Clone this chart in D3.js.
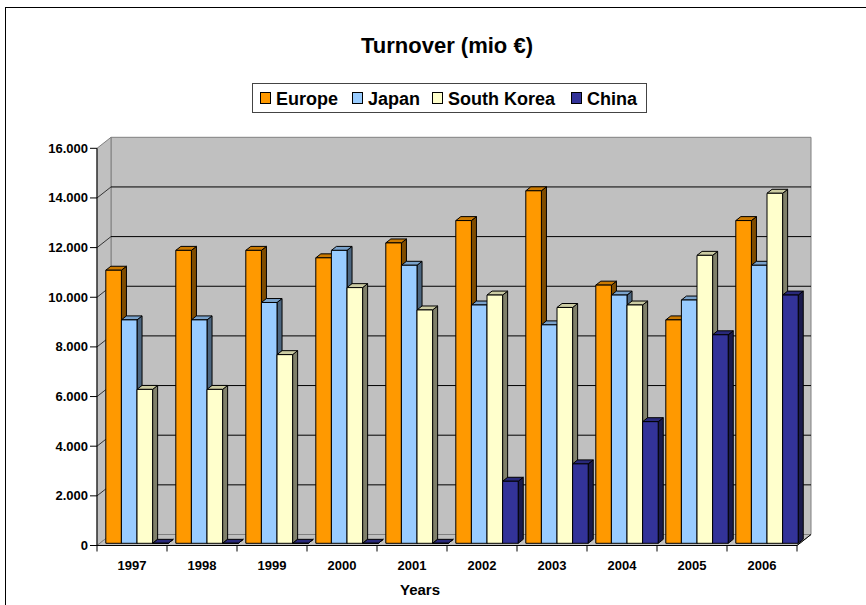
<!DOCTYPE html>
<html lang="en">
<head>
<meta charset="UTF-8">
<title>Turnover</title>
<style>
  body { margin: 0; background: #fff; }
  text { font-family: "Liberation Sans", Arial, sans-serif; font-weight: bold; fill: #000; }
</style>
</head>
<body>
<svg id="chart" width="866" height="605"></svg>
<script src="https://d3js.org/d3.v7.min.js"></script>
<script>

var years = ["1997", "1998", "1999", "2000", "2001", "2002", "2003", "2004", "2005", "2006"];
var seriesNames = ["Europe", "Japan", "South Korea", "China"];

var europe     = [11000, 11800, 11800, 11500, 12100, 13000, 14200, 10400,  9000, 13000];
var japan      = [ 9000,  9000,  9700, 11800, 11200,  9600,  8800, 10000,  9800, 11200];
var southKorea = [ 6200,  6200,  7600, 10300,  9400, 10000,  9500,  9600, 11600, 14100];
var china      = [    0,     0,     0,     0,     0,  2500,  3200,  4900,  8400, 10000];

var yTicks = [0, 2000, 4000, 6000, 8000, 10000, 12000, 14000, 16000];

var frontColors = ["#FF9900", "#99CCFF", "#FFFFCC", "#333399"];
var topColors   = ["#CC7A00", "#7AA3CC", "#CCCCA3", "#29297A"];
var sideColors  = ["#7F4C00", "#4C6680", "#80806A", "#1A1A4C"];

var allSeries = [europe, japan, southKorea, china];

var svg = d3.select("#chart");

// outer chart frame
svg.append("rect")
    .attr("x", 5.5).attr("y", 7.5)
    .attr("width", 880).attr("height", 620)
    .attr("fill", "#fff").attr("stroke", "#000");

// 3d set up: front plane + depth offset
var left = 97, right = 797,
    DX = 14, DY = 11,
    z0 = 0.2, z1 = 0.56;

var y = d3.scaleLinear().domain([0, 16000]).range([545.5, 148.3]);
var x0 = d3.scaleBand().domain(years).range([left, right]);
var x1 = d3.scaleBand().domain(seriesNames).range([6, 68.4]);

function P(x, v, z) {
    return [x + z * DX, y(v) - z * DY];
}
function poly(pts) {
    return "M" + pts.map(function (p) { return p[0] + "," + p[1]; }).join("L") + "Z";
}

var fmt = d3.formatLocale({ decimal: ",", thousands: ".", grouping: [3], currency: ["", "€"] }).format(",d");

// walls
var wall = svg.append("g");
wall.append("path")   // back wall
    .attr("d", poly([P(left, 0, 1), P(right, 0, 1), P(right, 16000, 1), P(left, 16000, 1)]))
    .attr("fill", "#C0C0C0").attr("stroke", "#808080");
wall.append("path")   // side wall
    .attr("d", poly([P(left, 0, 0), P(left, 0, 1), P(left, 16000, 1), P(left, 16000, 0)]))
    .attr("fill", "#C0C0C0").attr("stroke", "#808080");

yTicks.slice(1, -1).forEach(function (t) {
    var a = P(left, t, 1), b = P(right, t, 1), c = P(left, t, 0);
    wall.append("line")
        .attr("x1", a[0]).attr("y1", a[1]).attr("x2", b[0]).attr("y2", b[1])
        .attr("stroke", "#000");
    wall.append("line")
        .attr("x1", c[0]).attr("y1", c[1]).attr("x2", a[0]).attr("y2", a[1])
        .attr("stroke", "#333");
});

// floor
wall.append("path")
    .attr("d", poly([P(left, 0, 0), P(right, 0, 0), P(right, 0, 1), P(left, 0, 1)]))
    .attr("fill", "#C0C0C0").attr("stroke", "#808080");

// bars, left to right so each front face covers the previous side face
var bars = svg.append("g")
    .attr("stroke", "#000").attr("stroke-width", 1).attr("stroke-linejoin", "round");

years.forEach(function (yr, i) {
    seriesNames.forEach(function (s, j) {
        var v = allSeries[j][i];
        var xl = x0(yr) + x1(s), xr = xl + x1.bandwidth();
        bars.append("path")
            .attr("d", poly([P(xr, 0, z0), P(xr, 0, z1), P(xr, v, z1), P(xr, v, z0)]))
            .attr("fill", sideColors[j]);
        bars.append("path")
            .attr("d", poly([P(xl, v, z0), P(xr, v, z0), P(xr, v, z1), P(xl, v, z1)]))
            .attr("fill", topColors[j]);
        bars.append("path")
            .attr("d", poly([P(xl, 0, z0), P(xr, 0, z0), P(xr, v, z0), P(xl, v, z0)]))
            .attr("fill", frontColors[j]);
    });
});

// axes
var axes = svg.append("g").attr("stroke", "#000");
axes.append("line")
    .attr("x1", left).attr("y1", y(0)).attr("x2", left).attr("y2", y(16000));
axes.append("line")
    .attr("x1", left).attr("y1", y(0)).attr("x2", right).attr("y2", y(0));
axes.append("line")
    .attr("x1", right).attr("y1", y(0)).attr("x2", right + DX).attr("y2", y(0) - DY);

yTicks.forEach(function (t) {
    axes.append("line")
        .attr("x1", left - 7).attr("y1", y(t)).attr("x2", left).attr("y2", y(t));
});
x0.domain().concat(["end"]).forEach(function (yr, i) {
    var xx = left + i * x0.bandwidth();
    axes.append("line")
        .attr("x1", xx).attr("y1", y(0)).attr("x2", xx).attr("y2", y(0) + 6);
});

svg.append("g").selectAll("text")
    .data(yTicks).join("text")
    .attr("x", left - 9).attr("y", function (d) { return y(d) + 4.5; })
    .attr("text-anchor", "end").attr("font-size", 13)
    .text(function (d) { return fmt(d); });

svg.append("g").selectAll("text")
    .data(years).join("text")
    .attr("x", function (d) { return x0(d) + x0.bandwidth() / 2; })
    .attr("y", 570)
    .attr("text-anchor", "middle").attr("font-size", 13)
    .text(function (d) { return d; });

svg.append("text")
    .attr("x", 420).attr("y", 595)
    .attr("text-anchor", "middle").attr("font-size", 15)
    .text("Years");

// title
svg.append("text")
    .attr("x", 447).attr("y", 53)
    .attr("text-anchor", "middle").attr("font-size", 22)
    .text("Turnover (mio €)");

// legend
var legend = svg.append("g");
legend.append("rect")
    .attr("x", 252.5).attr("y", 83.5).attr("width", 394).attr("height", 29)
    .attr("fill", "#fff").attr("stroke", "#444");

var legX = [260, 352, 432, 571];
seriesNames.forEach(function (s, j) {
    legend.append("rect")
        .attr("x", legX[j] + 0.5).attr("y", 92.5).attr("width", 10).attr("height", 11)
        .attr("fill", frontColors[j]).attr("stroke", "#000");
    legend.append("text")
        .attr("x", legX[j] + 16).attr("y", 104.5)
        .attr("font-size", 18)
        .text(s);
});

</script>
</body>
</html>
